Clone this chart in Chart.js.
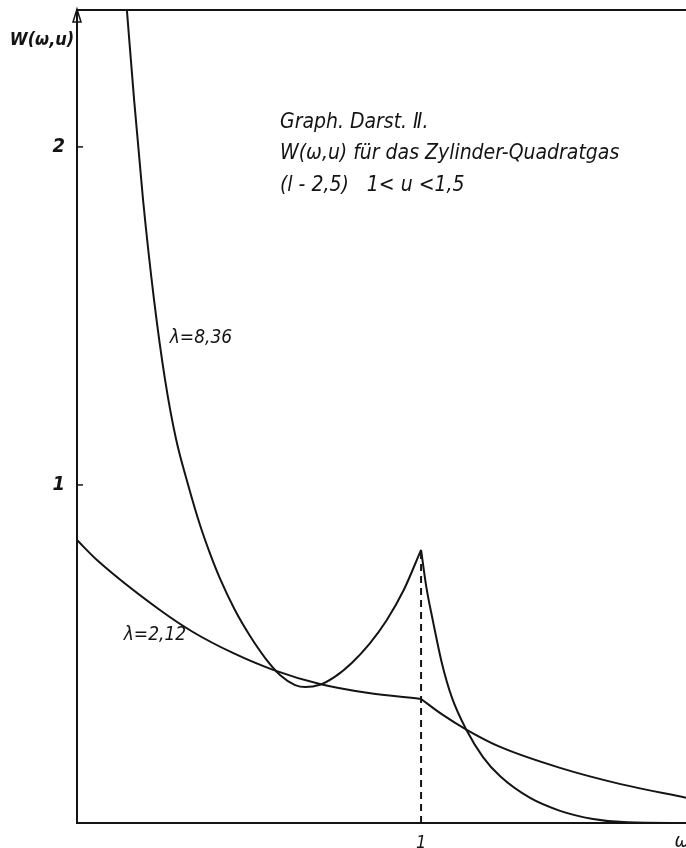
<!DOCTYPE html>
<html>
<head>
<meta charset="utf-8">
<script src="https://cdn.jsdelivr.net/npm/chart.js@4/dist/chart.umd.min.js"></script>
<style>
  body { margin: 0; background: #fff; }
  #wrap { width: 686px; height: 848px; position: relative; }
</style>
</head>
<body>
<div id="wrap"><canvas id="chart"></canvas></div>
<script>
// omega values and W(omega,u)
// lambda = 8,36 : falling branch down to the minimum, then up to the cusp at omega = 1
const omegaA1 = [0.145, 0.166, 0.192, 0.224, 0.256, 0.288, 0.323, 0.358, 0.387, 0.416, 0.459, 0.503, 0.547, 0.590, 0.634, 0.663, 0.706, 0.75, 0.80, 0.85, 0.90, 0.95, 1.0];
const wA1     = [2.405, 2.139, 1.843, 1.547, 1.311, 1.135, 1.000, 0.880, 0.796, 0.722, 0.630, 0.553, 0.488, 0.438, 0.408, 0.402, 0.409, 0.433, 0.475, 0.530, 0.600, 0.690, 0.808];
// lambda = 8,36 : after the cusp
const omegaA2 = [1.0, 1.015, 1.035, 1.06, 1.09, 1.132, 1.18, 1.23, 1.317, 1.404, 1.5, 1.6, 1.77];
const wA2     = [0.808, 0.700, 0.595, 0.475, 0.370, 0.275, 0.195, 0.138, 0.074, 0.036, 0.012, 0.002, 0.0];

// lambda = 2,12 : before and after the kink at omega = 1
const omegaB1 = [0, 0.058, 0.241, 0.337, 0.453, 0.57, 0.706, 0.843, 1.0];
const wB1     = [0.837, 0.778, 0.630, 0.565, 0.503, 0.453, 0.411, 0.385, 0.367];
const omegaB2 = [1.0, 1.06, 1.134, 1.23, 1.404, 1.58, 1.77];
const wB2     = [0.367, 0.322, 0.275, 0.225, 0.163, 0.115, 0.075];

const yTicks = [1, 2];
const xTicks = [1];

const toPts = (xs, ys) => xs.map((x, i) => ({ x: x, y: ys[i] }));

const ink = '#141414';
const handFont = '"DejaVu Sans Condensed", "DejaVu Sans", sans-serif';

function curve(label, xs, ys) {
    return {
        label: label,
        data: toPts(xs, ys),
        borderColor: ink,
        borderWidth: 2,
        pointRadius: 0,
        showLine: true,
        cubicInterpolationMode: 'monotone',
        fill: false
    };
}

// annotations, axis arrow, top frame line
const decor = {
    id: 'decor',
    afterDraw(chart) {
        const ctx = chart.ctx;
        const a = chart.chartArea;
        const ys = chart.scales.y;
        ctx.save();
        ctx.strokeStyle = ink;
        ctx.fillStyle = ink;
        ctx.lineWidth = 2;

        // top frame line
        ctx.beginPath();
        ctx.moveTo(a.left, a.top);
        ctx.lineTo(a.right, a.top);
        ctx.stroke();

        // arrow head on y axis
        ctx.lineWidth = 1.5;
        ctx.beginPath();
        ctx.moveTo(a.left, a.top - 1);
        ctx.lineTo(a.left - 4, a.top + 12);
        ctx.lineTo(a.left + 4, a.top + 12);
        ctx.closePath();
        ctx.stroke();

        // inward tick marks on y axis
        yTicks.forEach(v => {
            const py = ys.getPixelForValue(v);
            ctx.beginPath();
            ctx.moveTo(a.left, py);
            ctx.lineTo(a.left + 6, py);
            ctx.stroke();
        });

        ctx.textAlign = 'center';
        ctx.textBaseline = 'middle';
        ctx.font = 'italic bold 18px ' + handFont;
        ctx.fillText('W(ω,u)', 42, 40);

        ctx.font = 'italic 20px ' + handFont;
        ctx.fillText('ω', 682, 842);

        ctx.font = 'italic 19px ' + handFont;
        ctx.fillText('λ=8,36', 201, 338);
        ctx.fillText('λ=2,12', 155, 635);

        ctx.textAlign = 'left';
        ctx.font = 'italic 21px ' + handFont;
        ctx.fillText('Graph. Darst. Ⅱ.', 280, 123);
        ctx.fillText('W(ω,u) für das Zylinder-Quadratgas', 280, 154);
        ctx.fillText('(l - 2,5)   1< u <1,5', 280, 186);
        ctx.restore();
    }
};

new Chart(document.getElementById('chart'), {
    type: 'scatter',
    data: {
        datasets: [
            curve('λ=8,36', omegaA1, wA1),
            curve('λ=8,36 b', omegaA2, wA2),
            curve('λ=2,12', omegaB1, wB1),
            curve('λ=2,12 b', omegaB2, wB2),
            {
                label: 'omega = 1',
                data: [{ x: omegaA2[0], y: 0 }, { x: omegaA2[0], y: wA2[0] }],
                borderColor: ink,
                borderWidth: 2,
                borderDash: [7, 5],
                pointRadius: 0,
                showLine: true
            }
        ]
    },
    options: {
        responsive: true,
        maintainAspectRatio: false,
        animation: false,
        layout: { padding: { top: 10, left: 0, right: 0, bottom: 0 } },
        plugins: {
            legend: { display: false },
            tooltip: { enabled: false }
        },
        scales: {
            x: {
                type: 'linear',
                min: 0,
                max: 1.77,
                afterFit: s => { s.height = 25; s.paddingLeft = 0; s.paddingRight = 0; },
                afterBuildTicks: s => { s.ticks = xTicks.map(v => ({ value: v })); },
                grid: { display: false },
                border: { color: ink, width: 2 },
                ticks: {
                    color: ink,
                    padding: 2,
                    font: { family: handFont, size: 18, style: 'italic' }
                }
            },
            y: {
                min: 0,
                max: 2.405,
                afterFit: s => { s.width = 77; s.paddingTop = 0; s.paddingBottom = 0; },
                afterBuildTicks: s => { s.ticks = yTicks.map(v => ({ value: v })); },
                grid: { display: false },
                border: { color: ink, width: 2 },
                ticks: {
                    color: ink,
                    padding: 4,
                    font: { family: handFont, size: 20, style: 'italic', weight: 'bold' }
                }
            }
        }
    },
    plugins: [decor]
});
</script>
</body>
</html>
